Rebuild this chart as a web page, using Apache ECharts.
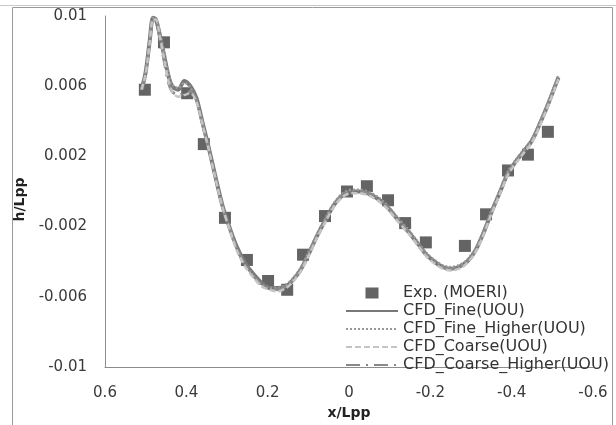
<!DOCTYPE html>
<html>
<head>
<meta charset="utf-8">
<script src="https://cdn.jsdelivr.net/npm/echarts@6/dist/echarts.min.js"></script>
<style>
html,body{margin:0;padding:0;background:#fff;}
#chart{width:616px;height:425px;}
</style>
</head>
<body>
<div id="chart"></div>
<script>
// Experimental points (MOERI)
var expX = [0.502, 0.455, 0.398, 0.357, 0.305, 0.251, 0.199, 0.152, 0.113, 0.059, 0.005, -0.044, -0.096, -0.138, -0.189, -0.285, -0.337, -0.391, -0.44, -0.489];
var expY = [0.0058, 0.0085, 0.0056, 0.0027, -0.0015, -0.0039, -0.0051, -0.0056, -0.0036, -0.0014, 0.0000, 0.0003, -0.0005, -0.0018, -0.0029, -0.0031, -0.0013, 0.0012, 0.0021, 0.0034];

// CFD curves: shared x positions
var cfdX = [0.51, 0.50, 0.49, 0.482, 0.475, 0.465, 0.455, 0.445, 0.435, 0.42, 0.405, 0.39, 0.375, 0.36, 0.345, 0.33, 0.31, 0.29, 0.275, 0.255, 0.235, 0.215, 0.195, 0.175, 0.155, 0.14, 0.12, 0.10, 0.08, 0.055, 0.035, 0.015, -0.005, -0.025, -0.045, -0.07, -0.095, -0.12, -0.15, -0.17, -0.19, -0.21, -0.23, -0.25, -0.27, -0.29, -0.31, -0.33, -0.35, -0.37, -0.39, -0.41, -0.43, -0.45, -0.47, -0.49, -0.51, -0.515];
var fineY = [0.0058, 0.0068, 0.0086, 0.0099, 0.0098, 0.0089, 0.0078, 0.0067, 0.0060, 0.0058, 0.0063, 0.0060, 0.0053, 0.0039, 0.0025, 0.0010, -0.0009, -0.0023, -0.0032, -0.0041, -0.0047, -0.0052, -0.0055, -0.0055, -0.0054, -0.0051, -0.0045, -0.0036, -0.0026, -0.0015, -0.0007, -0.0002, 0.0000, 0.0000, -0.0001, -0.0004, -0.0009, -0.0016, -0.0024, -0.0030, -0.0036, -0.0040, -0.0043, -0.0044, -0.0043, -0.0040, -0.0034, -0.0024, -0.0012, -0.0001, 0.0010, 0.0017, 0.0023, 0.0029, 0.0039, 0.0050, 0.0062, 0.0065];
var fineHigherY = [0.0058, 0.0069, 0.0087, 0.0099, 0.0098, 0.0090, 0.0079, 0.0068, 0.0061, 0.0059, 0.0062, 0.0059, 0.0052, 0.0038, 0.0024, 0.0009, -0.0010, -0.0024, -0.0033, -0.0042, -0.0048, -0.0053, -0.0055, -0.0055, -0.0053, -0.0050, -0.0044, -0.0035, -0.0025, -0.0014, -0.0006, -0.0001, 0.0001, 0.0001, 0.0000, -0.0003, -0.0008, -0.0015, -0.0023, -0.0029, -0.0035, -0.0039, -0.0042, -0.0043, -0.0042, -0.0039, -0.0033, -0.0023, -0.0011, 0.0000, 0.0011, 0.0018, 0.0024, 0.0030, 0.0040, 0.0051, 0.0063, 0.0066];
var coarseY = [0.0058, 0.0067, 0.0085, 0.0098, 0.0098, 0.0088, 0.0076, 0.0064, 0.0057, 0.0054, 0.0055, 0.0056, 0.0051, 0.0038, 0.0024, 0.0009, -0.0010, -0.0024, -0.0034, -0.0043, -0.0049, -0.0054, -0.0056, -0.0057, -0.0055, -0.0052, -0.0046, -0.0037, -0.0027, -0.0016, -0.0008, -0.0003, -0.0001, -0.0001, -0.0002, -0.0005, -0.0010, -0.0017, -0.0025, -0.0031, -0.0037, -0.0041, -0.0044, -0.0045, -0.0044, -0.0041, -0.0035, -0.0025, -0.0013, -0.0002, 0.0009, 0.0016, 0.0022, 0.0028, 0.0038, 0.0049, 0.0061, 0.0064];
var coarseHigherY = [0.0058, 0.0068, 0.0086, 0.0099, 0.0098, 0.0087, 0.0075, 0.0063, 0.0057, 0.0055, 0.0056, 0.0057, 0.0052, 0.0039, 0.0025, 0.0010, -0.0009, -0.0023, -0.0033, -0.0042, -0.0048, -0.0053, -0.0055, -0.0056, -0.0054, -0.0051, -0.0045, -0.0036, -0.0026, -0.0015, -0.0007, -0.0002, 0.0000, 0.0000, -0.0001, -0.0004, -0.0009, -0.0016, -0.0024, -0.0030, -0.0036, -0.0040, -0.0043, -0.0044, -0.0043, -0.0040, -0.0034, -0.0024, -0.0012, -0.0001, 0.0010, 0.0017, 0.0023, 0.0029, 0.0039, 0.0050, 0.0062, 0.0065];

var seriesNames = ['Exp. (MOERI)', 'CFD_Fine(UOU)', 'CFD_Fine_Higher(UOU)', 'CFD_Coarse(UOU)', 'CFD_Coarse_Higher(UOU)'];

function pairs(xs, ys) { return xs.map(function (x, i) { return [x, ys[i]]; }); }

var chart = echarts.init(document.getElementById('chart'), null, {renderer: 'canvas'});
var FONT = 'DejaVu Sans';

function lineSeries(name, ys, color, width, type, z) {
  return {
    name: name, type: 'line', data: pairs(cfdX, ys), symbol: 'none', smooth: 0.3,
    lineStyle: {color: color, width: width, type: type},
    itemStyle: {color: color}, z: z, animation: false
  };
}

// square legend marker centred in a 52x11 box
var squareIcon = 'path://M0,5.5L0,5.5M19.5,-0.5L32.5,-0.5L32.5,11.5L19.5,11.5ZM52,5.5L52,5.5';

chart.setOption({
  animation: false,
  backgroundColor: '#fff',
  grid: {left: 105, right: 23, top: 16, bottom: 55, containLabel: false},
  xAxis: {
    type: 'value', min: -0.6, max: 0.6, interval: 0.2, inverse: true,
    name: 'x/Lpp', nameLocation: 'middle', nameGap: 39,
    nameTextStyle: {fontFamily: FONT, fontWeight: 'bold', fontSize: 14, color: '#222'},
    axisLine: {show: true, onZero: false, lineStyle: {color: '#8c8c8c', width: 1}},
    axisTick: {show: false},
    splitLine: {show: false},
    axisLabel: {fontFamily: FONT, fontSize: 15, color: '#3a3a3a', margin: 19,
      formatter: function (v) { return String(+v.toFixed(1)); }}
  },
  yAxis: {
    type: 'value', min: -0.01, max: 0.01, interval: 0.002,
    name: 'h/Lpp', nameLocation: 'middle', nameGap: 66, nameRotate: 90,
    nameTextStyle: {fontFamily: FONT, fontWeight: 'bold', fontSize: 14, color: '#222', padding: [0, 16, 0, 0]},
    axisLine: {show: true, onZero: false, lineStyle: {color: '#8c8c8c', width: 1}},
    axisTick: {show: false},
    splitLine: {show: false},
    axisLabel: {fontFamily: FONT, fontSize: 15, color: '#3a3a3a', margin: 18,
      formatter: function (v) {
        var k = Math.round(v * 1000);
        if (((k + 10) % 4 + 4) % 4 !== 0) return '';
        return String(+v.toFixed(3));
      }}
  },
  legend: {
    show: true, orient: 'vertical', left: 340, top: 279,
    itemWidth: 52, itemHeight: 11, itemGap: 0, symbolKeepAspect: false,
    textStyle: {fontFamily: FONT, fontSize: 16, color: '#333', lineHeight: 18},
    data: [
      {name: seriesNames[0], icon: squareIcon, itemStyle: {opacity: 1}},
      {name: seriesNames[1], itemStyle: {opacity: 0}},
      {name: seriesNames[2], itemStyle: {opacity: 0}},
      {name: seriesNames[3], itemStyle: {opacity: 0}},
      {name: seriesNames[4], itemStyle: {opacity: 0}}
    ]
  },
  graphic: [
    {type: 'line', shape: {x1: 0, y1: 5.5, x2: 616, y2: 5.5}, style: {stroke: '#c8c8c8', lineWidth: 1}, silent: true},
    {type: 'rect', shape: {x: 12.5, y: 7.5, width: 600, height: 430}, style: {fill: 'none', stroke: '#9a9a9a', lineWidth: 1}, silent: true}
  ],
  series: [
    {name: seriesNames[0], type: 'scatter', data: pairs(expX, expY), symbol: 'rect', symbolSize: 12,
      itemStyle: {color: '#646464', opacity: 1}, z: 1},
    lineSeries(seriesNames[1], fineY, '#787878', 4, 'solid', 2),
    lineSeries(seriesNames[2], fineHigherY, '#9a9a9a', 2.5, [2, 2], 3),
    lineSeries(seriesNames[3], coarseY, '#c4c4c4', 2.5, [6, 3], 4),
    lineSeries(seriesNames[4], coarseHigherY, '#8a8a8a', 3, [14, 6, 2, 6], 3)
  ]
});
</script>
</body>
</html>
